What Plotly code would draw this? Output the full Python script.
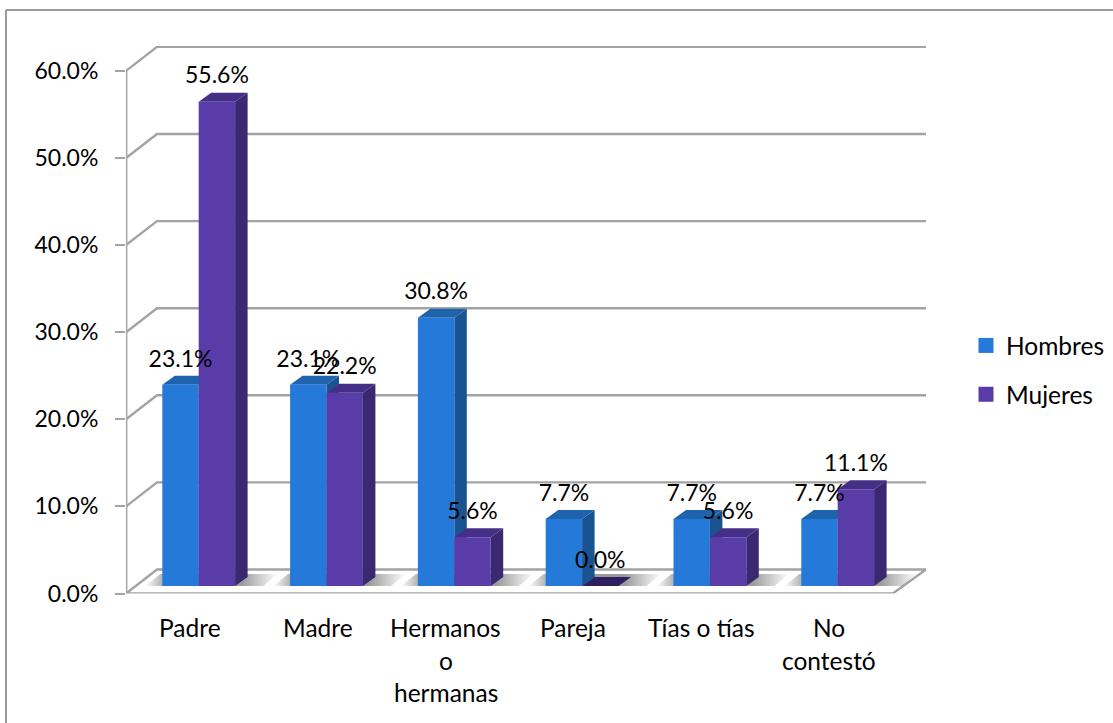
import plotly.graph_objects as go

categories = ["Padre", "Madre", "Hermanos\no\nhermanas", "Pareja", "Tías o tías", "No\ncontestó"]
hombres = [23.1, 23.1, 30.8, 7.7, 7.7, 7.7]
mujeres = [55.6, 22.2, 5.6, 0.0, 5.6, 11.1]
y_ticks = [0, 10, 20, 30, 40, 50, 60]
y_ticktext = ["0.0%", "10.0%", "20.0%", "30.0%", "40.0%", "50.0%", "60.0%"]

W, H = 1113, 723
X0, X1, Y0, Y1 = 126.0, 926.0, 593.5, 46.0
CAT_PX, VAL_PX = 127.8, 8.71
FONT = "Lato"
FS = 23
FS_CAT = 24.5
GRID = "#a3a3a3"
STYLE = {
    "Hombres": dict(front="#2579d9", side="#1a5391", top="#1f63ad"),
    "Mujeres": dict(front="#5a3ca9", side="#3a2870", top="#452f86"),
}

xr = (X1 - X0) / CAT_PX
yr = (Y0 - Y1) / VAL_PX
wall_dx, wall_dy = 31 / CAT_PX, 24 / VAL_PX
bar_dx, bar_dy = 12.5 / CAT_PX, 9 / VAL_PX
base = 7.5 / VAL_PX
bar_w = 36.4 / CAT_PX
bar_off = 36.3 / CAT_PX
label_gap = 24 / VAL_PX

fig = go.Figure()


def line(xs, ys, width=2.4):
    fig.add_trace(go.Scatter(x=xs, y=ys, mode="lines", line=dict(color=GRID, width=width),
                             showlegend=False, hoverinfo="skip", cliponaxis=False))


def poly(xs, ys, color):
    fig.add_trace(go.Scatter(x=xs + xs[:1], y=ys + ys[:1], mode="lines", fill="toself", fillcolor=color,
                             line=dict(width=0, color=color), showlegend=False, hoverinfo="skip",
                             cliponaxis=False))


# walls and floor
for v in y_ticks:
    if v == 0:
        continue
    line([0, wall_dx, xr], [v, v + wall_dy, v + wall_dy])
line([0, 0], [0, y_ticks[-1]], 2.8)
n = len(categories)
line([0, wall_dx, xr, n, 0], [0, wall_dy, wall_dy, 0, 0])

# floor shadows
for i in range(n):
    L = i + bar_off - 17 / CAT_PX
    R = i + bar_off + 2 * bar_w + 28 / CAT_PX
    slope = 15 / CAT_PX
    top = base + 12 / VAL_PX
    xs = [L, R, R + slope, L + slope, L]
    ys = [base, base, top, top, base]
    fig.add_trace(go.Scatter(
        x=xs, y=ys, mode="lines", fill="toself", line=dict(width=0), showlegend=False,
        hoverinfo="skip", cliponaxis=False,
        fillgradient=dict(type="horizontal", colorscale=[
            [0, "rgba(110,110,110,0)"], [0.17, "rgba(110,110,110,0.7)"],
            [0.72, "rgba(110,110,110,0.7)"], [1, "rgba(110,110,110,0)"]])))

# bars
for i in range(n):
    for j, (name, vals) in enumerate((("Hombres", hombres), ("Mujeres", mujeres))):
        s = STYLE[name]
        v = vals[i]
        l = i + bar_off + j * bar_w
        r = l + bar_w
        poly([r, r + bar_dx, r + bar_dx, r], [base, base + bar_dy, base + bar_dy + v, base + v], s["side"])
        poly([l, r, r + bar_dx, l + bar_dx], [base + v, base + v, base + v + bar_dy, base + v + bar_dy],
             s["top"] if v > 0 else "#2e1f5e")
        if v > 0:
            poly([l, r, r, l], [base, base, base + v, base + v], s["front"])

# data labels
for j, (name, vals) in enumerate((("Hombres", hombres), ("Mujeres", mujeres))):
    fig.add_trace(go.Scatter(
        x=[i + bar_off + j * bar_w + bar_w / 2 for i in range(n)],
        y=[base + v + label_gap for v in vals],
        mode="text", text=[f"{v:.1f}%" for v in vals], textposition="middle center",
        textfont=dict(family=FONT, size=FS, color="#000000"),
        showlegend=False, hoverinfo="skip", cliponaxis=False))

# legend entries
for k, name in enumerate(STYLE):
    fig.add_trace(go.Scatter(x=[None], y=[None], mode="markers", name=name, legendgroup=name,
                             marker=dict(symbol="square", size=15, color=STYLE[name]["front"])))

# category labels
annotations = []
for i, c in enumerate(categories):
    for k, part in enumerate(c.split("\n")):
        annotations.append(dict(x=i + 0.5, xref="x", y=(H - (627.5 + 32.5 * k)) / H, yref="paper",
                                text=part, showarrow=False, xanchor="center", yanchor="middle",
                                font=dict(family=FONT, size=FS_CAT, color="#000000")))

fig.update_layout(
    width=W, height=H, margin=dict(l=0, r=0, t=0, b=0, pad=0),
    paper_bgcolor="white", plot_bgcolor="white",
    showlegend=True,
    font=dict(family=FONT, size=FS, color="#000000"),
    legend=dict(x=966 / W, y=(H - 370) / H, xanchor="left", yanchor="middle", tracegroupgap=14,
                bgcolor="rgba(0,0,0,0)", font=dict(family=FONT, size=FS_CAT, color="#000000"),
                itemclick=False, itemdoubleclick=False),
    annotations=annotations,
    shapes=[
        dict(type="line", xref="paper", yref="paper", x0=6 / W, x1=6 / W, y0=0, y1=(H - 10) / H,
             line=dict(color="#9a9a9a", width=2)),
        dict(type="line", xref="paper", yref="paper", x0=6 / W, x1=1, y0=(H - 10) / H, y1=(H - 10) / H,
             line=dict(color="#9a9a9a", width=2)),
    ],
    xaxis=dict(domain=[X0 / W, X1 / W], range=[0, xr], showgrid=False, zeroline=False, showline=False,
               showticklabels=False, ticks="", automargin=False),
    yaxis=dict(domain=[(H - Y0) / H, (H - Y1) / H], range=[0, yr], showgrid=False, zeroline=False,
               showline=False, tickmode="array", tickvals=y_ticks, ticktext=y_ticktext, automargin=False,
               ticks="outside", ticklen=10, tickwidth=2.4, tickcolor=GRID, ticklabelstandoff=12,
               tickfont=dict(family=FONT, size=FS, color="#000000")),
)

fig.write_html("out.html", config={"displayModeBar": False},
               post_script="document.body.style.margin='0';document.body.style.overflow='hidden';")
